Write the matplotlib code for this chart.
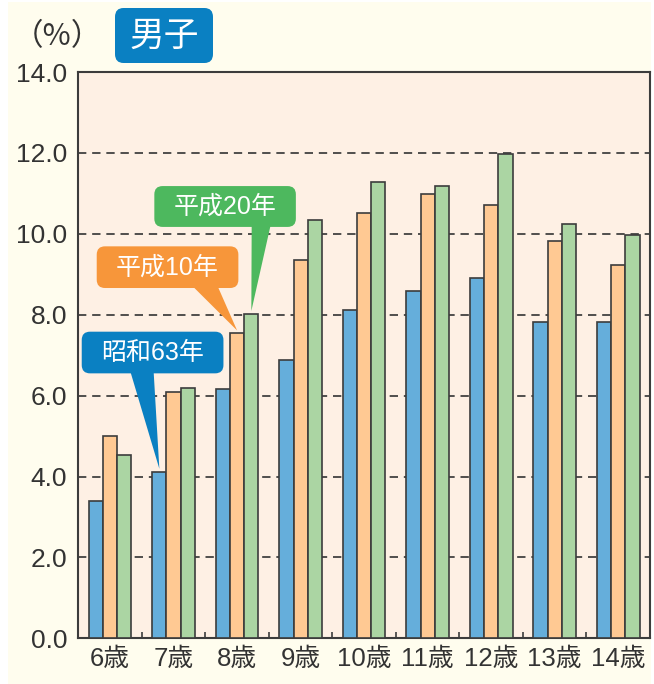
import numpy as np
import matplotlib
matplotlib.use('Agg')
import matplotlib.pyplot as plt
from matplotlib.patches import FancyBboxPatch, Polygon, Rectangle

plt.rcParams['font.family'] = ['Liberation Sans', 'Noto Sans CJK JP', 'DejaVu Sans']

# Datos (%) por edad
edades = ['6歳', '7歳', '8歳', '9歳', '10歳', '11歳', '12歳', '13歳', '14歳']
series = ['昭和63年', '平成10年', '平成20年']
s63 = [3.40, 4.12, 6.17, 6.89, 8.11, 8.58, 8.90, 7.83, 7.83]
h10 = [5.00, 6.09, 7.54, 9.35, 10.51, 10.99, 10.71, 9.83, 9.23]
h20 = [4.54, 6.19, 8.02, 10.35, 11.29, 11.17, 11.97, 10.25, 9.98]
yticks = [0, 2, 4, 6, 8, 10, 12, 14]

bar_colors = ['#65AEDB', '#FFC993', '#ABD5A3']
box_colors = ['#0A80C2', '#F7963A', '#4DB85E']
edge = '#3C3C3C'
dark = '#333333'

W, H = 654, 684
fig = plt.figure(figsize=(W / 100, H / 100), dpi=100, facecolor='white')

# fondo crema
fig.add_artist(Rectangle((8 / W, 0), (651 - 8) / W, 1 - 2 / H,
                         transform=fig.transFigure, fc='#FFFDEE', ec='none', zorder=0))

ax = fig.add_axes([78.3 / W, (H - 638.3) / H, (650 - 78.3) / W, (638.3 - 72) / H])
ax.set_facecolor('#FEF0E4')

x = np.arange(len(edades))
w = 0.224
for k, vals in enumerate([s63, h10, h20]):
    ax.bar(x + (k - 1) * w, vals, w, color=bar_colors[k], edgecolor=edge,
           linewidth=1.2, zorder=3)

ax.set_xlim(-0.5, len(edades) - 0.5)
ax.set_ylim(0, 14)
ax.set_yticks(yticks)
ax.set_yticklabels([f'{v:.1f}' for v in yticks], fontsize=19, color=dark)
ax.tick_params(axis='y', length=0, pad=8)
ax.set_xticks(x)
ax.set_xticklabels(edades, fontsize=18.5, color=dark)
ax.tick_params(axis='x', length=0, pad=6)
# marcas pequeñas entre grupos
ax.set_xticks(x[:-1] + 0.5, minor=True)
ax.tick_params(axis='x', which='minor', direction='in', length=4, width=1.2, color=edge)

for v in yticks[1:-1]:
    ax.axhline(v, color=dark, linestyle=(0, (5, 3.5)), linewidth=1.2, zorder=1)

for sp in ax.spines.values():
    sp.set_color(edge)
    sp.set_linewidth(1.5)

# Etiquetas con globo (caja en datos, punta sobre la barra)
px_x = (650 - 78.3) / 9
px_y = (638.3 - 72) / 14
asp = px_x / px_y
callouts = [
    # serie, barra (edad), caja x0, x1, y0, y1, base del pico x0, x1
    (0, 1, -0.446, 1.785, 6.55, 7.58, 0.29, 0.68),
    (1, 2, -0.21, 2.02, 8.66, 9.69, 1.20, 1.65),
    (2, 2, 0.697, 2.925, 10.17, 11.18, 2.23, 2.55),
]
vals_all = [s63, h10, h20]
for k, i, bx0, bx1, by0, by1, p0, p1 in callouts:
    c = box_colors[k]
    tip_x = i + (k - 1) * w
    tip_y = vals_all[k][i] + 0.07
    ax.add_patch(Polygon([(p0, by0 + 0.2), (p1, by0 + 0.2), (tip_x, tip_y)],
                         closed=True, fc=c, ec='none', zorder=5))
    ax.add_patch(FancyBboxPatch((bx0, by0), bx1 - bx0, by1 - by0,
                                boxstyle='round,pad=0,rounding_size=0.13',
                                mutation_aspect=asp, fc=c, ec='none', zorder=5))
    ax.text((bx0 + bx1) / 2, (by0 + by1) / 2, series[k], color='white', fontsize=18,
            ha='center', va='center', zorder=6)

# titulo "男子" y unidad
fig.add_artist(FancyBboxPatch((115 / W, 1 - 63 / H), 98 / W, 55 / H,
                              boxstyle='round,pad=0,rounding_size=0.013',
                              transform=fig.transFigure, fc='#0A80C2', ec='none'))
fig.text(164 / W, 1 - 36 / H, '男子', color='white', fontsize=25, ha='center', va='center')
fig.text(57 / W, 1 - 37 / H, '（%）', color=dark, fontsize=22, ha='center', va='center',
         family=['Noto Sans CJK JP', 'DejaVu Sans'])

fig.savefig('out.png', dpi=100, facecolor=fig.get_facecolor())
